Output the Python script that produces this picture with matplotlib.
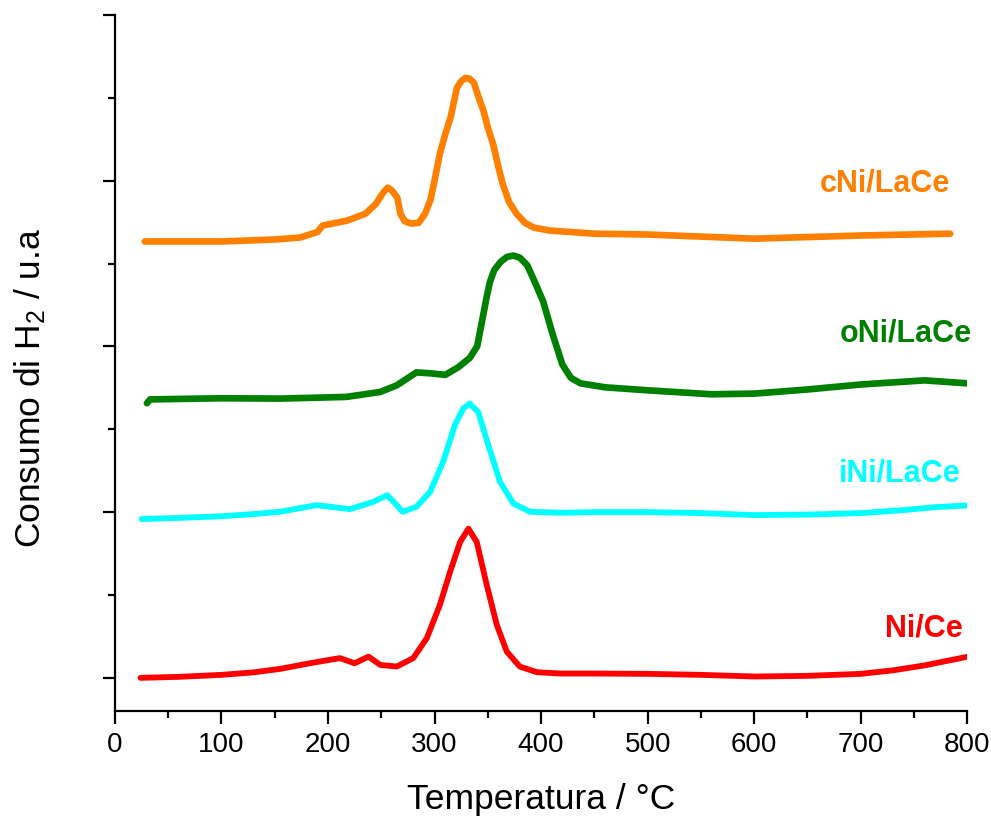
import matplotlib
matplotlib.use("Agg")
import matplotlib.pyplot as plt
from matplotlib.ticker import MultipleLocator, NullFormatter

plt.rcParams['font.family'] = ['Liberation Sans', 'DejaVu Sans']
plt.rcParams['mathtext.default'] = 'regular'

# TPR profiles (temperature in °C, H2 consumption in a.u., curves stacked)
t_nice = [24, 60, 100, 130, 155, 183, 211, 225, 238, 249, 264.5, 280, 292.7,
          305, 314.6, 324, 331.8, 339.6, 349, 358.4, 367.8, 380, 396, 418, 450,
          500, 550, 600, 650, 700, 730, 760, 800]
y_nice = [0.0, 0.006, 0.018, 0.033, 0.054, 0.088, 0.119, 0.088, 0.128, 0.078,
          0.068, 0.119, 0.239, 0.44, 0.64, 0.82, 0.90, 0.82, 0.56, 0.32, 0.158,
          0.068, 0.034, 0.026, 0.026, 0.024, 0.018, 0.008, 0.012, 0.024, 0.045,
          0.075, 0.127]

t_inice = [25, 60, 100, 130, 155, 189, 220.7, 242.5, 255.7, 263, 270, 283,
           295.8, 308, 319, 327, 333, 341, 350.5, 361.5, 374, 389.7, 418, 450,
           500, 550, 600, 650, 700, 740, 770, 800]
y_inice = [0.958, 0.965, 0.975, 0.988, 1.002, 1.042, 1.018, 1.062, 1.102,
           1.052, 1.002, 1.032, 1.122, 1.303, 1.524, 1.625, 1.655, 1.604, 1.404,
           1.182, 1.052, 1.002, 0.996, 1.0, 1.0, 0.994, 0.982, 0.985, 0.994,
           1.012, 1.03, 1.04]

t_onice = [30, 33, 100, 155, 217, 249, 264.5, 283, 297, 310, 322, 333, 340,
           343, 346, 349, 352, 356, 362, 368, 374, 380, 387, 394, 402, 411, 420,
           428, 437, 460, 500, 560, 600, 650, 700, 760, 800]
y_onice = [1.657, 1.68, 1.687, 1.685, 1.695, 1.725, 1.765, 1.843, 1.837, 1.828,
           1.873, 1.93, 2.0, 2.1, 2.2, 2.3, 2.39, 2.46, 2.51, 2.54, 2.548, 2.535,
           2.49, 2.39, 2.27, 2.07, 1.89, 1.81, 1.777, 1.753, 1.735, 1.711, 1.715,
           1.74, 1.77, 1.795, 1.777]

t_cnice = [28, 100, 150, 174, 190, 195, 218, 235, 245, 252, 256, 260, 265, 268,
           272, 278, 285, 291, 296, 300, 305, 310, 315, 321, 325, 329, 333, 337,
           341, 346, 350, 355, 360, 364, 370, 377, 385, 393, 408, 450, 500, 600,
           700, 784]
y_cnice = [2.633, 2.633, 2.645, 2.657, 2.69, 2.729, 2.759, 2.80, 2.86, 2.93,
           2.958, 2.94, 2.898, 2.80, 2.755, 2.741, 2.745, 2.80, 2.88, 3.0, 3.163,
           3.28, 3.38, 3.56, 3.60, 3.62, 3.615, 3.59, 3.51, 3.42, 3.32, 3.22,
           3.08, 2.98, 2.87, 2.80, 2.745, 2.717, 2.699, 2.68, 2.675, 2.65, 2.669,
           2.68]

series = [
    ("Ni/Ce", t_nice, y_nice, "#ff0000", 4.2, (759, 0.30)),
    ("iNi/LaCe", t_inice, y_inice, "#00ffff", 4.2, (737, 1.235)),
    ("oNi/LaCe", t_onice, y_onice, "#008000", 4.8, (742, 2.078)),
    ("cNi/LaCe", t_cnice, y_cnice, "#ff8000", 4.8, (723, 2.98)),
]

fig = plt.figure(figsize=(9.91, 8.16), dpi=100)
ax = fig.add_axes([0.116, 0.1287, 0.86, 0.853])

for name, t, y, color, lw, (lx, ly) in series:
    ax.plot(t, y, color=color, lw=lw, solid_capstyle='round', solid_joinstyle='round')
    ax.text(lx, ly, name, color=color, fontsize=22, fontweight='bold',
            ha='center', va='center')

ax.set_xlim(0, 800)
ax.set_ylim(-0.2, 4.0)
ax.xaxis.set_major_locator(MultipleLocator(100))
ax.xaxis.set_minor_locator(MultipleLocator(50))
ax.yaxis.set_major_locator(MultipleLocator(1))
ax.yaxis.set_minor_locator(MultipleLocator(0.5))
ax.yaxis.set_major_formatter(NullFormatter())

for side in ('top', 'right'):
    ax.spines[side].set_visible(False)
for side in ('left', 'bottom'):
    ax.spines[side].set_linewidth(1.6)

ax.tick_params(which='major', direction='out', length=9, width=1.6, labelsize=20, pad=6)
ax.tick_params(which='minor', direction='out', length=5, width=1.6)

ax.set_xlabel("Temperatura / °C", fontsize=25.5)
ax.set_ylabel(r"Consumo di H$_2$ / u.a", fontsize=25.5)
ax.xaxis.set_label_coords(0.5, -0.103)
ax.yaxis.set_label_coords(-0.079, 0.464)

fig.savefig("out.png", dpi=100)
